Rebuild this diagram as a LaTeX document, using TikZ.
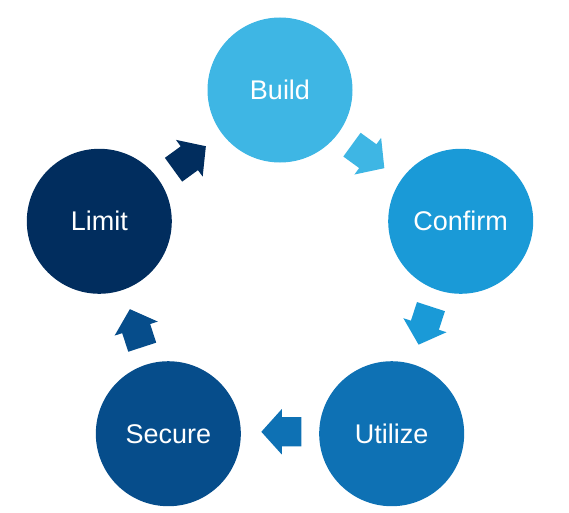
\documentclass[tikz,border=0pt]{standalone}
\usepackage{fontspec}
\setmainfont{Liberation Sans}
\usepackage{tikz}
\usetikzlibrary{shapes.arrows}
\definecolor{buildcolor}{HTML}{3EB6E4}
\definecolor{confirmcolor}{HTML}{1A9AD7}
\definecolor{utilizecolor}{HTML}{0E71B4}
\definecolor{securecolor}{HTML}{064D8B}
\definecolor{limitcolor}{HTML}{012D5E}

\begin{document}
\begin{tikzpicture}[
    x=1pt, y=1pt,
    stage/.style={circle, fill=#1, text=white,
                  minimum size=145pt, inner sep=0pt,
                  font=\fontsize{27}{32}\selectfont},
    flow/.style={single arrow, fill=#1, draw=none,
                 minimum height=40pt,
                 inner xsep=0pt, inner ysep=14.5pt,
                 single arrow head extend=8pt,
                 single arrow tip angle=96}
]
\useasboundingbox (-280,-232) rectangle (289,280);

\node[stage=buildcolor] (build) at (90:190) {Build};
\node[stage=confirmcolor] (confirm) at (18:190) {Confirm};
\node[stage=utilizecolor] (utilize) at (-54:190) {Utilize};
\node[stage=securecolor] (secure) at (-126:190) {Secure};
\node[stage=limitcolor] (limit) at (162:190) {Limit};

\node[flow=buildcolor, rotate=-36] (buildtoconfirm) at (57:152) {};
\node[flow=confirmcolor, rotate=-108] (confirmtoutilize) at (-15:152) {};
\node[flow=utilizecolor, rotate=180] (utilizetosecure) at (-87:152) {};
\node[flow=securecolor, rotate=108] (securetolimit) at (-159:152) {};
\node[flow=limitcolor, rotate=36] (limittobuild) at (129:152) {};
\end{tikzpicture}
\end{document}
